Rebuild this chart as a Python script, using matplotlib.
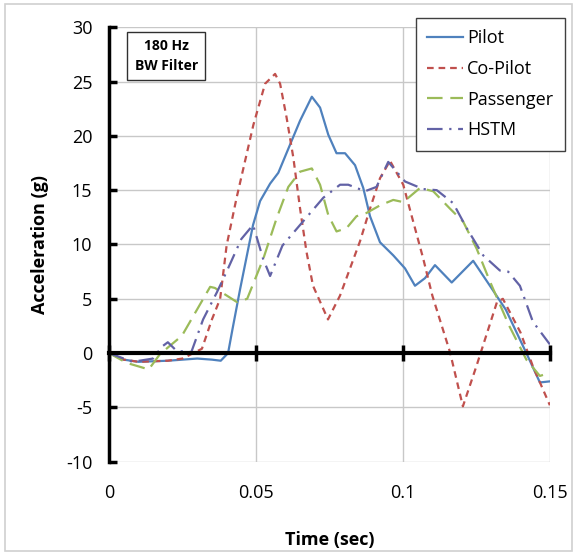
import matplotlib.pyplot as plt
from matplotlib.patches import Rectangle
from matplotlib.transforms import blended_transform_factory

plt.rcParams['font.family'] = ['Open Sans', 'DejaVu Sans']
plt.rcParams['axes.unicode_minus'] = False

# values (time in sec, acceleration in g)
pilot_t = [0, 0.005, 0.01, 0.02, 0.03, 0.035, 0.038, 0.0405, 0.042, 0.0446, 0.049,
           0.0514, 0.0548, 0.0576, 0.0616, 0.065, 0.069, 0.0718, 0.0746, 0.0774,
           0.0803, 0.0837, 0.0865, 0.0888, 0.0922, 0.0967, 0.1007, 0.1041, 0.1075,
           0.1109, 0.1166, 0.1239, 0.1296, 0.135, 0.142, 0.1466, 0.15]
pilot_g = [0, -0.6, -0.8, -0.7, -0.5, -0.6, -0.7, 0, 2.2, 5.9, 11.8,
           14.0, 15.6, 16.6, 19.2, 21.4, 23.6, 22.6, 20.1, 18.4,
           18.4, 17.3, 15.2, 12.6, 10.2, 9.0, 7.8, 6.2, 6.9,
           8.1, 6.5, 8.5, 6.2, 4.0, 0, -2.7, -2.6]

copilot_t = [0, 0.005, 0.01, 0.02, 0.025, 0.0316, 0.035, 0.0378, 0.040, 0.0434,
             0.0457, 0.0491, 0.0531, 0.0565, 0.0582, 0.0604, 0.0627, 0.065, 0.0672,
             0.0694, 0.0745, 0.0786, 0.0854, 0.0888, 0.0922, 0.0956, 0.1001,
             0.1035, 0.1069, 0.110, 0.116, 0.1204, 0.125, 0.132, 0.134, 0.140,
             0.1442, 0.15]
copilot_g = [0, -0.6, -0.8, -0.7, -0.5, 0.4, 3.1, 5, 9.9, 14.3,
             17.0, 21.0, 24.8, 25.7, 24.8, 21.7, 18.0, 13.3, 9.3,
             6.2, 3.1, 5.3, 10.3, 13.3, 16.1, 17.7, 15.5,
             12.1, 8.7, 5.3, 0.1, -4.9, -1.2, 4.7, 5.0, 1.9,
             -1.2, -4.8]

passenger_t = [0, 0.006, 0.0135, 0.0173, 0.0248, 0.0344, 0.036, 0.0435, 0.047,
               0.0525, 0.057, 0.061, 0.065, 0.069, 0.0718, 0.0746, 0.0774, 0.0808,
               0.0842, 0.0876, 0.0922, 0.0967, 0.1001, 0.1058, 0.1103, 0.116,
               0.1205, 0.1251, 0.1296, 0.136, 0.142, 0.1466, 0.15]
passenger_g = [0, -0.9, -1.5, -0.1, 1.6, 6.1, 6.0, 4.7, 5,
               8.7, 12.4, 15.3, 16.7, 17.0, 15.5, 12.7, 11.2, 11.5,
               12.6, 12.9, 13.6, 14.1, 13.9, 15.2, 14.9, 13.3,
               12.1, 9.6, 6.6, 2.6, -0.6, -2.1, -1.8]

hstm_t = [0, 0.008, 0.015, 0.018, 0.020, 0.023, 0.028, 0.032, 0.0367, 0.040,
          0.045, 0.049, 0.0524, 0.0548, 0.059, 0.065, 0.0729, 0.0786, 0.0814,
          0.0871, 0.091, 0.095, 0.1007, 0.1069, 0.1115, 0.1171, 0.1217, 0.1273,
          0.133, 0.1358, 0.1398, 0.1442, 0.15]
hstm_g = [0, -0.8, -0.5, 0.6, 1.0, 0.2, 0.1, 3.1, 5.6, 7.5,
          10.5, 11.8, 8.7, 7.1, 9.9, 11.8, 14.3, 15.5, 15.5,
          14.9, 15.3, 17.6, 15.8, 15.1, 15.0, 13.8, 11.5, 9.0,
          7.6, 7.5, 6.2, 2.9, 0.8]

fig = plt.figure(figsize=(5.77, 5.55), dpi=100)
fig.patches.append(Rectangle((0.008, 0.008), 0.984, 0.984, transform=fig.transFigure,
                             fill=False, edgecolor='#d0d0d0', lw=1.2))
ax = fig.add_axes([0.189, 0.168, 0.764, 0.783])

ax.plot(pilot_t, pilot_g, color='#4f81bd', lw=1.6, label='Pilot')
ax.plot(copilot_t, copilot_g, color='#c0504d', lw=1.6, dashes=(3, 2.2), label='Co-Pilot')
ax.plot(passenger_t, passenger_g, color='#9bbb59', lw=1.6, dashes=(7, 3.5), label='Passenger')
ax.plot(hstm_t, hstm_g, color='#6262a6', lw=1.6, dashes=(7, 3, 1, 3), label='HSTM')

ax.set_xlim(0, 0.15)
ax.set_ylim(-10, 30)
ax.set_xticks([0, 0.05, 0.1, 0.15])
ax.set_yticks(range(-10, 31, 5))
ax.grid(True, color='#c8c8c8', lw=1.0)
ax.set_axisbelow(True)

for s in ['top', 'right']:
    ax.spines[s].set_visible(False)
ax.spines['left'].set_linewidth(2.5)
ax.spines['bottom'].set_position(('data', 0))
ax.spines['bottom'].set_linewidth(3)
ax.tick_params(axis='y', direction='in', length=6, width=2.5, labelsize=13, pad=12)
ax.tick_params(axis='x', direction='inout', length=12, width=2.5, labelbottom=False)

# x tick labels sit at the bottom of the plot, not on the zero line
tr = blended_transform_factory(ax.transData, ax.transAxes)
for t, lab in zip([0, 0.05, 0.1, 0.15], ['0', '0.05', '0.1', '0.15']):
    ax.text(t, -0.072, lab, transform=tr, ha='center', va='center', fontsize=13)

fig.text(0.571, 0.027, 'Time (sec)', ha='center', va='center', fontsize=13, fontweight='bold')
ax.set_ylabel('Acceleration (g)', fontsize=13, fontweight='bold', labelpad=12)

leg = fig.legend(loc='upper right', bbox_to_anchor=(0.979, 0.968), fontsize=13,
                 fancybox=False, edgecolor='#404040', framealpha=1, borderaxespad=0,
                 handlelength=2.0, handletextpad=0.2, labelspacing=0.7,
                 borderpad=0.65)
leg.get_frame().set_linewidth(1.0)

fig.text(0.288, 0.899, '180 Hz\nBW Filter', ha='center', va='center', fontsize=10,
         fontweight='bold', linespacing=1.5,
         bbox=dict(boxstyle='square,pad=0.55', fc='white', ec='#303030', lw=1.0))

fig.savefig('out.png', dpi=100)
